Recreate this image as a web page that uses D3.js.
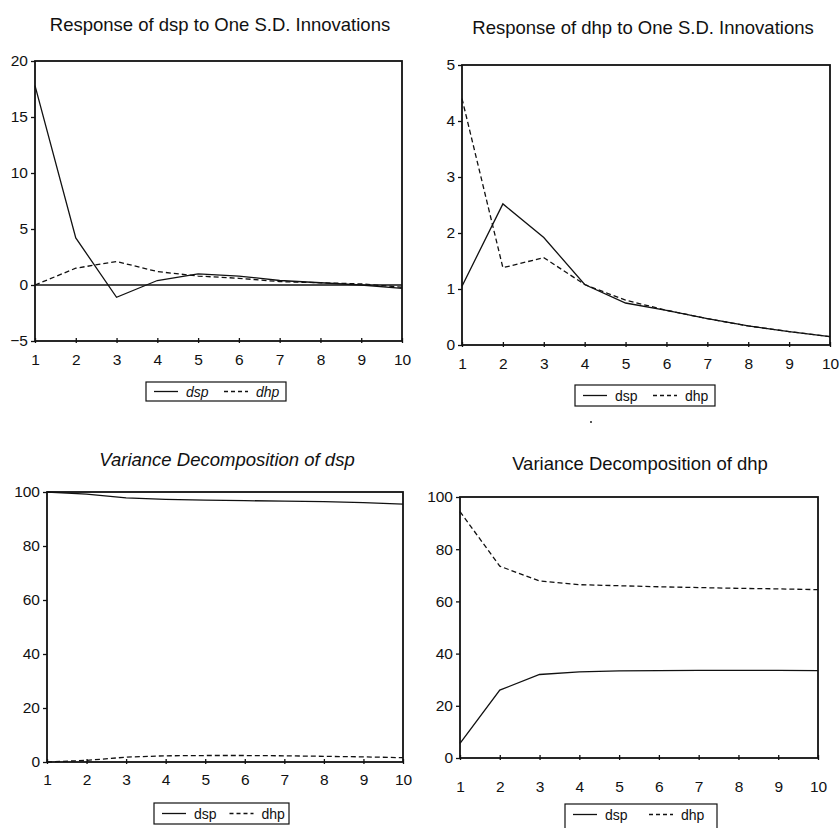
<!DOCTYPE html>
<html>
<head>
<meta charset="utf-8">
<script src="https://cdn.jsdelivr.net/npm/d3@7"></script>
<style>
  body { margin: 0; background: #fff; }
  svg { display: block; font-family: "Liberation Sans", Arial, sans-serif; }
</style>
</head>
<body>
<div id="chart"></div>
<script>
// DATA
var periods = [1, 2, 3, 4, 5, 6, 7, 8, 9, 10]

var respDsp_dsp = [17.8, 4.2, -1.1, 0.4, 1.0, 0.8, 0.4, 0.2, 0.0, -0.3]
var respDsp_dhp = [0.0, 1.5, 2.1, 1.2, 0.8, 0.6, 0.3, 0.2, 0.1, -0.2]

var respDhp_dsp = [1.05, 2.52, 1.92, 1.08, 0.75, 0.62, 0.47, 0.34, 0.24, 0.15]
var respDhp_dhp = [4.4, 1.38, 1.56, 1.08, 0.8, 0.62, 0.47, 0.34, 0.24, 0.15]

var vdDsp_dsp = [100, 99.2, 97.8, 97.3, 97.0, 96.8, 96.6, 96.4, 96.1, 95.5]
var vdDsp_dhp = [0.0, 0.6, 1.8, 2.3, 2.4, 2.4, 2.3, 2.1, 1.9, 1.6]

var vdDhp_dsp = [5.6, 26.0, 32.0, 33.0, 33.4, 33.5, 33.6, 33.6, 33.6, 33.5]
var vdDhp_dhp = [94.4, 73.5, 67.8, 66.4, 66.0, 65.6, 65.3, 65.0, 64.8, 64.5]

var titles = [
  "Response of dsp to One S.D. Innovations",
  "Response of dhp to One S.D. Innovations",
  "Variance Decomposition of dsp",
  "Variance Decomposition of dhp"
]
var seriesNames = ["dsp", "dhp"]
var yDomains = [[-5, 20], [0, 5], [0, 100], [0, 100]]
var yTicks = [[-5, 0, 5, 10, 15, 20], [0, 1, 2, 3, 4, 5], [0, 20, 40, 60, 80, 100], [0, 20, 40, 60, 80, 100]]

// LAYOUT (pixel boxes of each panel)
var panels = [
  {l: 35, r: 402, t: 61, b: 341, tx: 220, ty: 31, xl: 359, lg: {x: 146, y: 382, w: 140, h: 19}, italicTitle: false, italicLegend: true, zero: true},
  {l: 462, r: 830, t: 65, b: 345, tx: 643, ty: 34, xl: 363, lg: {x: 575, y: 385, w: 140, h: 21}, italicTitle: false, italicLegend: false, zero: false},
  {l: 47, r: 403, t: 492, b: 762, tx: 227, ty: 466, xl: 779, lg: {x: 154, y: 803, w: 135, h: 21}, italicTitle: true, italicLegend: false, zero: false},
  {l: 460, r: 818, t: 497, b: 758, tx: 640, ty: 470, xl: 786, lg: {x: 565, y: 804, w: 152, h: 26}, italicTitle: false, italicLegend: false, zero: false}
]
var panelData = [
  [respDsp_dsp, respDsp_dhp],
  [respDhp_dsp, respDhp_dhp],
  [vdDsp_dsp, vdDsp_dhp],
  [vdDhp_dsp, vdDhp_dhp]
]
var dashes = [null, "5,3"]

var svg = d3.select("#chart").append("svg")
  .attr("width", 840)
  .attr("height", 828)

panels.forEach(function(p, k) {
  var g = svg.append("g").attr("class", "panel")

  var xScale = d3.scaleLinear().domain([1, 10]).range([p.l, p.r])
  var yScale = d3.scaleLinear().domain(yDomains[k]).range([p.b, p.t])

  // title
  g.append("text")
    .attr("x", p.tx)
    .attr("y", p.ty)
    .attr("text-anchor", "middle")
    .style("font-size", "18.5px")
    .style("font-style", p.italicTitle ? "italic" : "normal")
    .attr("fill", "#111")
    .text(titles[k])

  // axes
  g.append("g")
    .attr("transform", "translate(" + p.l + ",0)")
    .call(d3.axisLeft(yScale).tickValues(yTicks[k]).tickSize(4).tickPadding(3).tickFormat(d3.format("d")))
    .call(function(a) {
      a.select(".domain").remove()
      a.selectAll("line").attr("stroke", "#111").attr("stroke-width", 1.3)
      a.selectAll("text").attr("fill", "#111").style("font-size", "15.5px").style("font-family", "Liberation Sans, Arial, sans-serif")
    })

  g.append("g")
    .attr("transform", "translate(0," + p.b + ")")
    .call(d3.axisBottom(xScale).tickValues(periods).tickSize(4).tickPadding(4).tickFormat(d3.format("d")))
    .call(function(a) {
      a.select(".domain").remove()
      a.selectAll("line").attr("stroke", "#111").attr("stroke-width", 1.3).attr("y1", -3).attr("y2", 2)
      a.selectAll("text").attr("fill", "#111")
        .attr("y", p.xl - p.b).attr("dy", "0.36em")
        .style("font-size", "15.5px").style("font-family", "Liberation Sans, Arial, sans-serif")
    })

  // frame
  g.append("rect")
    .attr("x", p.l).attr("y", p.t)
    .attr("width", p.r - p.l).attr("height", p.b - p.t)
    .attr("fill", "none")
    .attr("stroke", "#111")
    .attr("stroke-width", 1.8)

  if (p.zero) {
    g.append("line")
      .attr("x1", p.l).attr("x2", p.r)
      .attr("y1", yScale(0)).attr("y2", yScale(0))
      .attr("stroke", "#111").attr("stroke-width", 1.4)
  }

  // series
  var line = d3.line()
    .x(function(d, i) { return xScale(periods[i]) })
    .y(function(d) { return yScale(d) })

  panelData[k].forEach(function(vals, s) {
    g.append("path")
      .datum(vals)
      .attr("d", line)
      .attr("fill", "none")
      .attr("stroke", "#111")
      .attr("stroke-width", 1.3)
      .attr("stroke-dasharray", dashes[s])
  })

  // legend
  var lg = g.append("g").attr("transform", "translate(" + p.lg.x + "," + p.lg.y + ")")
  lg.append("rect")
    .attr("width", p.lg.w).attr("height", p.lg.h)
    .attr("fill", "none").attr("stroke", "#111").attr("stroke-width", 1.2)
  var half = p.lg.w / 2
  var mid = Math.min(p.lg.h / 2, 10.5)
  seriesNames.forEach(function(name, s) {
    var x0 = s * half
    lg.append("line")
      .attr("x1", x0 + 8).attr("x2", x0 + 32)
      .attr("y1", mid).attr("y2", mid)
      .attr("stroke", "#111").attr("stroke-width", 1.3)
      .attr("stroke-dasharray", s == 1 ? "4,3" : null)
    lg.append("text")
      .attr("x", x0 + 40)
      .attr("y", mid + 5)
      .style("font-size", "14px")
      .style("font-style", p.italicLegend ? "italic" : "normal")
      .attr("fill", "#111")
      .text(name)
  })
})

// scan speck
svg.append("circle").attr("cx", 591).attr("cy", 422).attr("r", 1).attr("fill", "#222")
</script>
</body>
</html>
